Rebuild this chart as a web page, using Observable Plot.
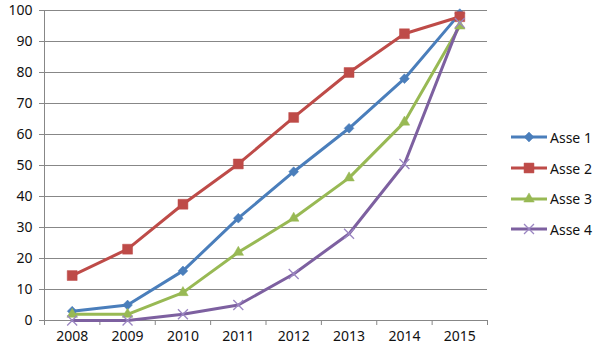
<!DOCTYPE html>
<html><head><meta charset="utf-8">
<script src="https://cdn.jsdelivr.net/npm/d3@7"></script>
<script src="https://cdn.jsdelivr.net/npm/@observablehq/plot@0.6"></script>
<style>
body{margin:0;background:#fff;font-family:"Noto Sans",sans-serif;}
#wrap{position:relative;width:600px;height:353px;}
#legend{position:absolute;left:511px;top:122px;font-size:14px;color:#111;}
.item{display:flex;align-items:center;height:30.7px;}
.item svg{margin-right:3px;}
</style></head><body>
<div id="wrap"><div id="chart"></div><div id="legend"></div></div>
<script>
const years = [2008, 2009, 2010, 2011, 2012, 2013, 2014, 2015];
const seriesNames = ["Asse 1", "Asse 2", "Asse 3", "Asse 4"];
const asse1 = [3, 5, 16, 33, 48, 62, 78, 99];
const asse2 = [14.5, 23, 37.5, 50.5, 65.5, 80, 92.5, 98];
const asse3 = [2, 2, 9, 22, 33, 46, 64, 95];
const asse4 = [0, 0, 2, 5, 15, 28, 50.5, 96];
const yTicks = [0, 10, 20, 30, 40, 50, 60, 70, 80, 90, 100];

const colors = ["#4A7EBB", "#BE4B48", "#98B954", "#7D60A0"];
const markerColors = ["#4A7EBB", "#BE4B48", "#98B954", "#9B86C2"];
const symbols = ["square", "square", "triangle", "times"];
const rotates = [45, 0, 0, 0];
const radii = [3.9, 5.6, 3.9, 4.6];

const values = [asse1, asse2, asse3, asse4];
const data = [];
seriesNames.forEach((s, i) => years.forEach((y, j) => data.push({series: s, idx: i, year: y, value: values[i][j]})));
const bounds = years.map(y => y - 0.5).concat([years[years.length - 1] + 0.5]);

const marks = [
  Plot.ruleY(yTicks, {stroke: "#878787", strokeWidth: 1}),
  Plot.ruleX([bounds[0]], {stroke: "#878787", strokeWidth: 1}),
  Plot.axisY({ticks: yTicks, tickSize: 5, tickPadding: 7, stroke: "#878787", fontSize: 14, color: "#111", label: null}),
  Plot.axisX({ticks: bounds, tickSize: 5, tickFormat: () => "", stroke: "#878787", label: null}),
  Plot.axisX({ticks: years, tickSize: 0, tickPadding: 11, tickFormat: d => String(d), fontSize: 14, label: null})
];
seriesNames.forEach((s, i) => {
  const d = data.filter(r => r.idx === i);
  marks.push(Plot.line(d, {x: "year", y: "value", stroke: colors[i], strokeWidth: 3, strokeLinejoin: "round"}));
});
seriesNames.forEach((s, i) => {
  const d = data.filter(r => r.idx === i);
  const isStroke = symbols[i] === "times";
  marks.push(Plot.dot(d, {
    x: "year", y: "value", symbol: () => symbols[i], r: radii[i], rotate: rotates[i],
    fill: isStroke ? "none" : markerColors[i], stroke: markerColors[i], strokeWidth: isStroke ? 1.3 : 0.5
  }));
});

const chart = Plot.plot({
  width: 600, height: 353,
  marginLeft: 44, marginRight: 113, marginTop: 10, marginBottom: 33,
  style: {fontFamily: "Noto Sans", fontSize: "14px", color: "#111", background: "#fff"},
  x: {type: "linear", domain: [bounds[0], bounds[bounds.length - 1]], axis: null, label: null},
  y: {domain: [0, 100], axis: null, label: null},
  symbol: {type: "identity"},
  marks
});
document.getElementById("chart").appendChild(chart);

const legend = document.getElementById("legend");
seriesNames.forEach((s, i) => {
  const item = document.createElement("div");
  item.className = "item";
  const svg = d3.create("svg").attr("width", 36).attr("height", 14);
  svg.append("line").attr("x1", 0).attr("x2", 36).attr("y1", 7).attr("y2", 7)
    .attr("stroke", colors[i]).attr("stroke-width", 3);
  const sym = {square: d3.symbolSquare, triangle: d3.symbolTriangle, times: d3.symbolTimes}[symbols[i]];
  const size = Math.PI * radii[i] * radii[i];
  const isStroke = symbols[i] === "times";
  svg.append("path").attr("d", d3.symbol(sym, size)())
    .attr("transform", `translate(18,7) rotate(${rotates[i]})`)
    .attr("fill", isStroke ? "none" : markerColors[i]).attr("stroke", markerColors[i])
    .attr("stroke-width", isStroke ? 1.3 : 0.5);
  item.appendChild(svg.node());
  const t = document.createElement("span");
  t.textContent = s;
  item.appendChild(t);
  legend.appendChild(item);
});
</script>
</body></html>
